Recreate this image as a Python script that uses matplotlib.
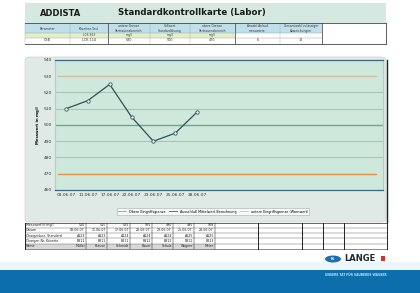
import matplotlib
matplotlib.use("Agg")
import matplotlib.pyplot as plt
from matplotlib.patches import Rectangle, FancyBboxPatch, Ellipse
from matplotlib.lines import Line2D

# Messwerte
dates = ["03.06.07", "11.06.07", "17.06.07", "22.06.07", "23.06.07", "25.06.07", "28.06.07"]
values = [510, 515, 525, 505, 490, 495, 508]
n_slots = 15

# Grenzen
upper_limit = 530
target = 500
lower_limit = 470
grid_levels = [520, 510, 490, 480]

# Kopftabelle
head_cols = ["Parameter", "Küvetten-Test", "untere Grenze\nVertrauensbereich", "Sollwert\nStandardlösung",
             "obere Grenze\nVertrauensbereich", "Anzahl Anlauf-\nmesswerte", "Gesamtzahl zulässiger\nAbweichungen"]
head_units = ["", "LCK 303", "mg/l", "mg/l", "mg/l", "", ""]
head_vals = ["CSB", "LCK 114", "530", "500", "470", "6", "18"]

# Tabelle unten
row_labels = ["Messwert in mg/l", "Datum", "Chargenbez. Standard", "Chargen-Nr. Küvette", "Name"]
names = ["Müller", "Krause", "Schmidt", "Bauer", "Schulz", "Wagner", "Meier"]
charge_std = ["A123", "A123", "A124", "A124", "A124", "A125", "A125"]
charge_cuv = ["B311", "B311", "B311", "B312", "B312", "B312", "B313"]

W, H = 420, 293
fig = plt.figure(figsize=(4.2, 2.93), dpi=100)
fig.patch.set_facecolor("white")


def P(x, y):
    return (x / W, 1 - y / H)


def rect(x0, y0, x1, y1, **kw):
    fig.patches.append(Rectangle(P(x0, y1), (x1 - x0) / W, (y1 - y0) / H,
                                 transform=fig.transFigure, zorder=-2, **kw))


def txt(x, y, s, **kw):
    kw.setdefault("fontsize", 2.4)
    kw.setdefault("va", "center")
    fig.text(*P(x, y), s, **kw)


def hline(x0, x1, y, **kw):
    fig.add_artist(Line2D([x0 / W, x1 / W], [1 - y / H, 1 - y / H], transform=fig.transFigure, **kw))


def vline(x, y0, y1, **kw):
    fig.add_artist(Line2D([x / W, x / W], [1 - y0 / H, 1 - y1 / H], transform=fig.transFigure, **kw))


# Kopfbereich
rect(25, 3, 386, 23, facecolor="#d6e9e1", edgecolor="none")
txt(40, 13, "ADDISTA", fontsize=6, fontweight="bold", color="#1a1a1a")
txt(118, 13, "Standardkontrollkarte (Labor)", fontsize=6.2, fontweight="bold", color="#1a1a1a")
hx = [25, 70, 108, 150, 190, 235, 280, 322]
rect(25, 23, 322, 33, facecolor="#bfe0ea", edgecolor="none")
rect(25, 33, 235, 37.5, facecolor="#e6efc4", edgecolor="none")
rect(322, 23, 386, 44, facecolor="white", edgecolor="none")
for i in range(7):
    xc = (hx[i] + hx[i + 1]) / 2
    txt(xc, 28.5, head_cols[i], ha="center", fontsize=2.2, color="#333")
    txt(xc, 35.3, head_units[i], ha="center", fontsize=2.2, color="#333")
    txt(xc, 40.5, head_vals[i], ha="center", fontsize=2.4, color="#333")
for x in hx:
    vline(x, 23, 43.5, color="#555" if x in (108, 235, 322) else "#aaa", lw=0.6 if x in (108, 235, 322) else 0.3)
hline(25, 386, 23, color="#444", lw=0.6)
hline(25, 322, 33, color="#999", lw=0.3)
hline(25, 322, 37.5, color="#999", lw=0.3)
hline(25, 386, 43.5, color="#444", lw=0.6)
vline(386, 23, 43.5, color="#444", lw=0.6)

# Diagrammrahmen
fig.patches.append(FancyBboxPatch(P(25, 222), 361 / W, 165 / H, boxstyle="round,pad=0,rounding_size=0.012",
                                  transform=fig.transFigure, facecolor="#dfeae6", edgecolor="#c9d6d2", lw=0.5,
                                  zorder=-1))
vline(386.5, 60, 222, color="#222", lw=1.0)
hline(40, 386, 222.5, color="#9aa", lw=0.6)

ax = fig.add_axes([55 / W, 1 - 190 / H, 328 / W, 130 / H])
ax.set_zorder(3)
ax.set_facecolor("#cfe8dc")
xs = list(range(len(values)))
for g in grid_levels:
    ax.axhline(g, color="#a9c4b8", lw=0.8, zorder=1)
ax.axhline(target, color="#6aa88a", lw=1.0, zorder=1)
ax.axhline(upper_limit, xmin=0.01, xmax=0.98, color="#d8bc9e", lw=1.0, zorder=1)
ax.axhline(lower_limit, xmin=0.01, xmax=0.98, color="#e2914c", lw=1.0, zorder=1)
ax.plot(xs, values, color="#2e5157", lw=0.9, marker="o", ms=2.4, mfc="white", mec="#2e5157", mew=0.6, zorder=3)
ax.set_xlim(-0.5, n_slots - 0.5)
ax.set_ylim(460, 540)
ax.set_yticks(range(460, 541, 10))
ax.set_xticks(xs)
ax.set_xticklabels(dates)
ax.tick_params(axis="both", labelsize=3.2, length=0, pad=2, colors="#333")
ax.set_ylabel("Messwert in mg/l", fontsize=2.8, labelpad=3, fontweight="bold")
for s in ("top", "bottom"):
    ax.spines[s].set_color("#3f6680")
    ax.spines[s].set_linewidth(0.9)
for s in ("left", "right"):
    ax.spines[s].set_color("#a7cfe0")
    ax.spines[s].set_linewidth(0.8)

handles = [Line2D([], [], color="#e07f7f", lw=0.6), Line2D([], [], color="#555", lw=0.6),
           Line2D([], [], color="#e8c96a", lw=0.6)]
leg = fig.legend(handles, ["Obere Eingriffsgrenze", "Ausschluß Mittelwert Berechnung", "untere Eingriffsgrenze (Warnwert)"],
                 loc="center", bbox_to_anchor=P(213, 211.5), ncol=3, fontsize=2.4, frameon=True,
                 handlelength=2.5, columnspacing=1.0, borderpad=0.4, fancybox=False)
leg.get_frame().set_edgecolor("#999")
leg.get_frame().set_linewidth(0.4)

# Tabelle unten
ty0, rh = 222.5, 5.3
tx = [25, 64, 86, 107, 130, 152, 173, 194, 215, 258, 302, 323, 344, 387]
rect(25, ty0 + 4 * rh, 215, ty0 + 5 * rh, facecolor="#d8d8d8", edgecolor="none")
table_rows = [[str(v) for v in values], dates, charge_std, charge_cuv, names]
for r in range(5):
    yc = ty0 + (r + 0.5) * rh
    txt(26, yc, row_labels[r], fontsize=2.3, color="#222")
    for c in range(7):
        txt(tx[c + 2] - 1, yc, table_rows[r][c], ha="right", fontsize=2.3, color="#222")
for r in range(6):
    hline(25, 387, ty0 + r * rh, color="#333", lw=0.4 if r in (0, 5) else 0.25)
for x in tx:
    if x == 64:
        continue
    vline(x, ty0, ty0 + 5 * rh, color="#222", lw=0.7 if x in (258, 302, 323, 344, 25, 387) else 0.35)

# Fußzeile
rect(0, 262, 420, 270, facecolor="#eef6fb", edgecolor="none")
fig.patches.append(Ellipse(P(333, 259), 16 / W, 7 / H, transform=fig.transFigure, facecolor="#1f6fb0", edgecolor="none"))
txt(333, 259, "HL", ha="center", fontsize=2.2, color="white", fontweight="bold")
txt(344, 258.5, "LANGE", fontsize=6, fontweight="bold", color="#1f2a36")
rect(381, 256, 385, 261, facecolor="#d43030", edgecolor="none")
rect(0, 270, 420, 293, facecolor="#0c6fab", edgecolor="none")
txt(325, 275.5, "UNSERE TAT FÜR SAUBERES WASSER", fontsize=2.2, color="#bfe0f5", fontweight="bold")

fig.savefig("out.png", dpi=100)
